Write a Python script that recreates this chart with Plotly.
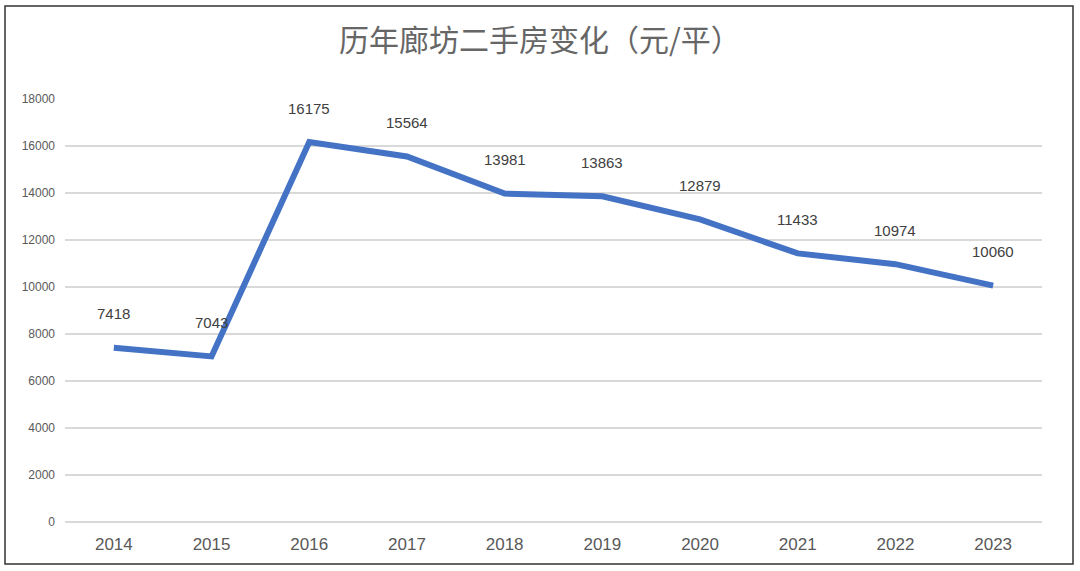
import plotly.graph_objects as go

years = ["2014", "2015", "2016", "2017", "2018", "2019", "2020", "2021", "2022", "2023"]
prices = [7418, 7043, 16175, 15564, 13981, 13863, 12879, 11433, 10974, 10060]
y_ticks = [0, 2000, 4000, 6000, 8000, 10000, 12000, 14000, 16000, 18000]
title_text = "历年廊坊二手房变化（元/平）"

fig = go.Figure()
fig.add_trace(go.Scatter(
    x=years, y=prices, mode="lines",
    line=dict(color="#4472C4", width=6),
    hoverinfo="skip", showlegend=False,
))

for i, p in enumerate(prices):
    fig.add_annotation(
        x=i, y=p, xref="x", yref="y", text=str(p), showarrow=False, yshift=34,
        font=dict(family="Liberation Sans, Arial, sans-serif", size=15, color="#404040"),
    )

W, H = 1080, 571
ml, mr, mt, mb = 65, 38, 99, 49
pw, ph = W - ml - mr, H - mt - mb

def px_x(x):
    return (x - ml) / pw

def px_y(y):
    return (H - mb - y) / ph

fig.add_shape(
    type="rect", xref="paper", yref="paper",
    x0=px_x(5), x1=px_x(1073), y0=px_y(564), y1=px_y(6),
    line=dict(color="#333333", width=1.5), fillcolor="rgba(0,0,0,0)", layer="below",
)

fig.update_layout(
    width=W, height=H,
    margin=dict(l=ml, r=mr, t=mt, b=mb),
    paper_bgcolor="white", plot_bgcolor="white",
    title=dict(
        text=title_text, x=0.5, xanchor="center", y=1 - 40 / H, yanchor="middle",
        font=dict(family="Noto Sans CJK SC, sans-serif", size=30, color="#666666"),
    ),
    xaxis=dict(
        type="category", range=[-0.5, 9.5], showgrid=False, zeroline=False,
        showline=False, ticks="", ticklabelstandoff=10,
        tickfont=dict(family="Liberation Sans, Arial, sans-serif", size=17, color="#595959"),
    ),
    yaxis=dict(
        range=[-10, 18010], tickvals=y_ticks, ticktext=[str(v) for v in y_ticks],
        showgrid=True, gridcolor="#d9d9d9", gridwidth=1.5,
        zeroline=True, zerolinecolor="#d9d9d9", zerolinewidth=1.5,
        showline=False, ticks="", ticklabelstandoff=9,
        tickfont=dict(family="Liberation Sans, Arial, sans-serif", size=12, color="#595959"),
    ),
)

fig.write_html(
    "out.html",
    config={"displayModeBar": False},
    post_script="document.body.style.margin='0';",
)
